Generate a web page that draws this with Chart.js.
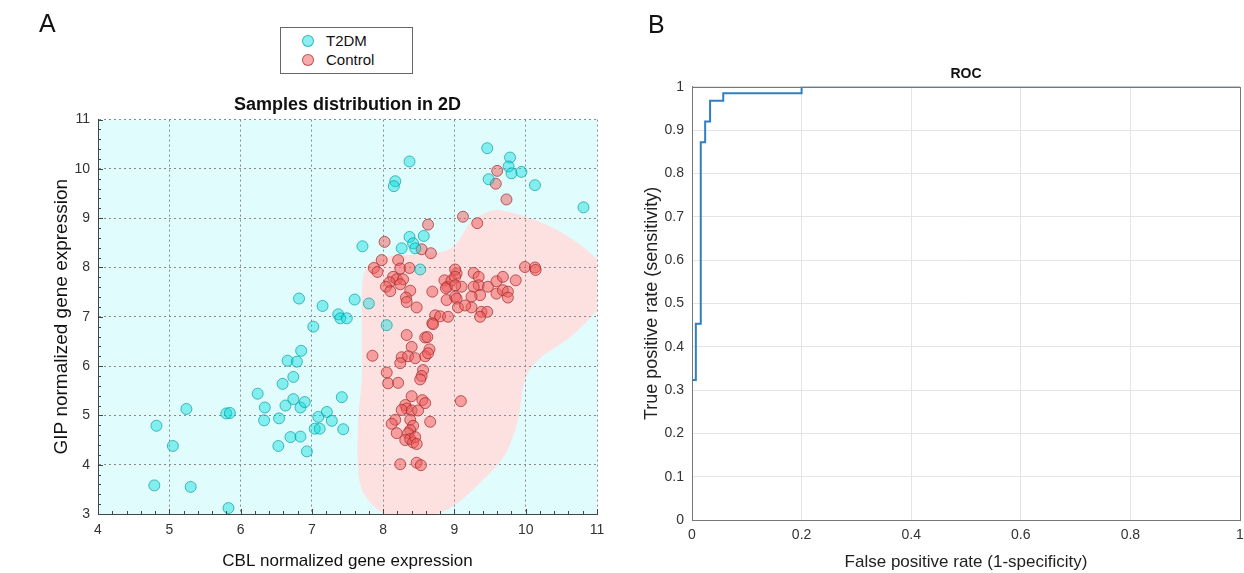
<!DOCTYPE html>
<html>
<head>
<meta charset="utf-8">
<script src="https://cdn.jsdelivr.net/npm/chart.js@4.4.0/dist/chart.umd.min.js"></script>
<style>
  body { margin: 0; background: #fff; width: 1244px; height: 573px; overflow: hidden; position: relative; font-family: "Liberation Sans", Arial, sans-serif; }
  .wrap { position: absolute; top: 0; width: 622px; height: 573px; }
  #wrapA { left: 0; }
  #wrapB { left: 622px; }
  .tag { position: absolute; font-size: 25px; color: #111; }
  #legend { position: absolute; left: 280px; top: 27px; width: 131px; height: 45px; border: 1px solid #666; background: #fff; font-size: 15px; color: #111; }
  #legend div { position: absolute; left: 21px; height: 18px; line-height: 18px; }
  #legend span { display: inline-block; width: 10px; height: 10px; border-radius: 50%; margin-right: 12px; vertical-align: -1px; }
</style>
</head>
<body>
<div class="wrap" id="wrapA"><canvas id="scatterChart" width="622" height="573"></canvas></div>
<div class="wrap" id="wrapB"><canvas id="rocChart" width="622" height="573"></canvas></div>
<div class="tag" style="left:39px;top:9px">A</div>
<div class="tag" style="left:648px;top:10px">B</div>
<div id="legend">
  <div style="top:4px"><span style="background:rgba(0,220,220,0.45);border:1px solid rgba(0,160,170,0.7)"></span>T2DM</div>
  <div style="top:23px"><span style="background:rgba(240,90,90,0.5);border:1px solid rgba(170,40,40,0.7)"></span>Control</div>
</div>
<script>
// T2DM samples (CBL, GIP)
const t2dmX = [4.82, 5.05, 5.24, 4.79, 5.30, 5.80, 5.85, 5.83, 6.24, 6.34, 6.33, 6.54, 6.53, 6.59, 6.63, 6.66, 6.74, 6.74, 6.70, 6.79,
  6.85, 6.84, 6.90, 6.84, 6.93, 7.02, 7.09, 7.04, 7.11, 7.21, 7.28, 7.42, 7.44, 6.82, 7.15, 7.37, 7.40, 7.49, 7.60, 7.80,
  8.05, 7.71, 8.37, 8.57, 8.42, 8.45, 8.26, 8.52, 8.37, 8.17, 8.15, 9.46, 9.78, 9.76, 9.80, 9.94, 9.48, 10.13, 10.81]
const t2dmY = [4.79, 4.38, 5.13, 3.58, 3.55, 5.04, 5.05, 3.12, 5.44, 5.16, 4.90, 4.94, 4.38, 5.64, 5.20, 6.11, 5.78, 5.33, 4.56, 6.09,
  6.31, 5.16, 5.27, 4.57, 4.27, 6.80, 4.97, 4.73, 4.73, 5.07, 4.89, 5.37, 4.72, 7.37, 7.22, 7.05, 6.97, 6.97, 7.35, 7.27,
  6.83, 8.43, 8.62, 8.64, 8.49, 8.39, 8.39, 7.96, 10.15, 9.75, 9.65, 10.42, 10.23, 10.05, 9.91, 9.94, 9.79, 9.67, 9.22]

// Control samples (CBL, GIP)
const controlX = [9.60, 9.58, 9.73, 9.12, 9.32, 8.63, 8.02, 8.54, 8.67, 7.98, 7.87, 7.92, 8.21, 8.24, 8.37, 8.14, 8.19, 8.28, 8.09, 8.04,
  8.10, 8.24, 8.38, 8.32, 8.33, 8.47, 8.69, 8.73, 8.80, 8.91, 8.69, 8.86, 8.90, 8.96, 8.89, 9.01, 9.03, 9.01, 9.01, 9.27,
  9.34, 9.34, 9.27, 9.10, 8.88, 9.01, 9.47, 9.59, 9.68, 9.86, 9.59, 9.68, 9.75, 9.75, 9.36, 9.24, 9.03, 9.05, 9.24, 9.15,
  9.38, 9.46, 9.36, 9.99, 10.13, 10.14, 8.70, 8.33, 8.59, 8.62, 8.40, 8.65, 7.85, 8.26, 8.35, 8.45, 8.59, 8.63, 8.24, 8.56,
  8.05, 8.54, 8.52, 8.07, 8.21, 8.40, 8.31, 8.33, 8.26, 8.40, 8.49, 8.55, 8.59, 8.17, 8.12, 8.38, 8.42, 8.66, 8.38, 8.19,
  8.35, 8.31, 8.38, 8.42, 8.45, 8.47, 9.09, 8.24, 8.47, 8.53]
const controlY = [9.96, 9.70, 9.38, 9.03, 8.90, 8.87, 8.52, 8.37, 8.29, 8.15, 7.99, 7.91, 8.15, 7.98, 7.99, 7.81, 7.76, 7.76, 7.70, 7.61,
  7.52, 7.66, 7.53, 7.39, 7.30, 7.19, 7.51, 7.03, 7.01, 7.00, 6.87, 7.74, 7.61, 7.74, 7.34, 7.41, 7.88, 7.96, 7.81, 7.89,
  7.81, 7.64, 7.61, 7.61, 7.58, 7.64, 7.61, 7.72, 7.81, 7.74, 7.47, 7.54, 7.51, 7.39, 7.44, 7.41, 7.37, 7.19, 7.19, 7.23,
  7.10, 7.10, 7.00, 8.01, 8.00, 7.95, 6.85, 6.63, 6.58, 6.59, 6.39, 6.34, 6.21, 6.18, 6.20, 6.16, 6.20, 6.26, 6.06, 5.92,
  5.87, 5.80, 5.73, 5.65, 5.66, 5.39, 5.21, 5.14, 5.11, 5.10, 5.10, 5.31, 5.25, 4.91, 4.83, 4.91, 4.79, 4.87, 4.70, 4.64,
  4.64, 4.50, 4.52, 4.45, 4.56, 4.42, 5.29, 4.01, 4.04, 3.99]

// outline of the Control decision region
const regionX = [7.75, 8.00, 8.89, 9.22, 9.46, 9.64, 10.02, 10.44, 10.86, 11.18, 11.11, 10.66, 10.20, 9.99, 9.89, 9.71, 9.40, 8.94,
  8.52, 8.03, 7.74, 7.65, 7.65, 7.70, 7.70, 7.70]
const regionY = [7.95, 8.21, 8.35, 8.90, 9.12, 9.16, 9.02, 8.76, 8.35, 7.84, 7.34, 6.63, 6.16, 5.72, 4.91, 4.20, 3.69, 3.12,
  2.95, 3.00, 3.39, 3.90, 4.91, 5.72, 6.73, 7.34]

// ROC curve
const rocFpr = [0, 0, 0.007, 0.016, 0.024, 0.033, 0.057, 0.2, 1]
const rocTpr = [0, 0.323, 0.453, 0.872, 0.92, 0.968, 0.985, 1, 1]

const xTicksA = [4, 5, 6, 7, 8, 9, 10, 11]
const yTicksA = [3, 4, 5, 6, 7, 8, 9, 10, 11]
const fprTicks = [0, 0.2, 0.4, 0.6, 0.8, 1]
const tprTicks = [0, 0.1, 0.2, 0.3, 0.4, 0.5, 0.6, 0.7, 0.8, 0.9, 1]

const FONT = "'Liberation Sans', Arial, sans-serif"
const toPoints = (xs, ys) => xs.map((x, i) => ({x, y: ys[i]}))
const plainNum = v => String(Math.round(v * 10) / 10)

// closed smooth curve through pixel points
function smoothClosed(ctx, pts) {
    const n = pts.length
    ctx.moveTo(pts[0].x, pts[0].y)
    for (let i = 0; i < n; i++) {
        const p0 = pts[(i - 1 + n) % n], p1 = pts[i], p2 = pts[(i + 1) % n], p3 = pts[(i + 2) % n]
        ctx.bezierCurveTo(p1.x + (p2.x - p0.x) / 6, p1.y + (p2.y - p0.y) / 6,
            p2.x - (p3.x - p1.x) / 6, p2.y - (p3.y - p1.y) / 6, p2.x, p2.y)
    }
    ctx.closePath()
}

// put the title over the plot area, not the whole canvas
const centerTitle = {
    id: "centerTitle",
    afterLayout(chart) {
        const t = chart.titleBlock
        if (t) {
            t.left = chart.chartArea.left
            t.right = chart.chartArea.right
        }
    }
}

const regionPlugin = {
    id: "region",
    beforeDraw(chart) {
        const {ctx, chartArea: a, scales} = chart
        ctx.save()
        ctx.fillStyle = "#e0fcfc"
        ctx.fillRect(a.left, a.top, a.right - a.left, a.bottom - a.top)
        ctx.beginPath()
        ctx.rect(a.left, a.top, a.right - a.left, a.bottom - a.top)
        ctx.clip()
        const pts = regionX.map((x, i) => ({x: scales.x.getPixelForValue(x), y: scales.y.getPixelForValue(regionY[i])}))
        ctx.beginPath()
        smoothClosed(ctx, pts)
        ctx.fillStyle = "#fde0e0"
        ctx.fill()
        ctx.restore()
    },
    afterDatasetsDraw(chart) {
        // small inward ticks like the original figure
        const {ctx, chartArea: a, scales} = chart
        ctx.save()
        ctx.strokeStyle = "#444"
        ctx.lineWidth = 1
        ctx.beginPath()
        for (let v = 4; v <= 11.001; v += 0.2) {
            const px = Math.round(scales.x.getPixelForValue(v)) + 0.5
            const len = Math.abs(v - Math.round(v)) < 0.01 ? 5 : 3
            ctx.moveTo(px, a.bottom); ctx.lineTo(px, a.bottom - len)
        }
        for (let v = 3; v <= 11.001; v += 0.2) {
            const py = Math.round(scales.y.getPixelForValue(v)) + 0.5
            const len = Math.abs(v - Math.round(v)) < 0.01 ? 5 : 3
            ctx.moveTo(a.left, py); ctx.lineTo(a.left + len, py)
        }
        ctx.stroke()
        ctx.restore()
    }
}

const boxPlugin = {
    id: "box",
    afterDatasetsDraw(chart) {
        const {ctx, chartArea: a} = chart
        ctx.save()
        ctx.strokeStyle = "#777"
        ctx.lineWidth = 1
        ctx.strokeRect(Math.round(a.left) + 0.5, Math.round(a.top) + 0.5, Math.round(a.right - a.left), Math.round(a.bottom - a.top))
        ctx.restore()
    }
}

// Panel A
new Chart(document.getElementById("scatterChart").getContext("2d"), {
    type: "scatter",
    data: {
        datasets: [{
            label: "T2DM",
            data: toPoints(t2dmX, t2dmY),
            backgroundColor: "rgba(0,220,220,0.42)",
            borderColor: "rgba(0,150,160,0.65)",
            borderWidth: 1,
            pointRadius: 5.5
        }, {
            label: "Control",
            data: toPoints(controlX, controlY),
            backgroundColor: "rgba(240,90,90,0.5)",
            borderColor: "rgba(160,40,40,0.7)",
            borderWidth: 1,
            pointRadius: 5.5
        }]
    },
    options: {
        responsive: false,
        animation: false,
        layout: {padding: {left: 0, right: 25, top: 0, bottom: 0}},
        plugins: {
            legend: {display: false},
            tooltip: {enabled: false},
            title: {
                display: true,
                text: "Samples distribution in 2D",
                font: {family: FONT, size: 18, weight: "bold"},
                color: "#111",
                padding: {top: 94, bottom: 4}
            }
        },
        scales: {
            x: {
                min: 4, max: 11,
                afterFit: s => { s.height = 59 },
                afterBuildTicks: s => { s.ticks = xTicksA.map(v => ({value: v})) },
                ticks: {font: {family: FONT, size: 14}, color: "#333", padding: 8},
                grid: {color: "#8a8a8a", tickLength: 0, drawTicks: false},
                border: {color: "#444", dash: [2, 3], width: 1},
                title: {display: true, text: "CBL normalized gene expression", font: {family: FONT, size: 17}, color: "#111", padding: {bottom: 1}}
            },
            y: {
                min: 3, max: 11,
                afterFit: s => { s.width = 98 },
                afterBuildTicks: s => { s.ticks = yTicksA.map(v => ({value: v})) },
                ticks: {font: {family: FONT, size: 14}, color: "#333", padding: 8},
                grid: {color: "#8a8a8a", tickLength: 0, drawTicks: false},
                border: {color: "#444", dash: [2, 3], width: 1},
                title: {display: true, text: "GIP normalized gene expression", font: {family: FONT, size: 19}, color: "#111", padding: {top: 50}}
            }
        }
    },
    plugins: [regionPlugin, centerTitle]
})

// Panel B
new Chart(document.getElementById("rocChart").getContext("2d"), {
    type: "scatter",
    data: {
        datasets: [{
            label: "ROC",
            data: toPoints(rocFpr, rocTpr),
            showLine: true,
            stepped: "before",
            borderColor: "#2f7fc1",
            borderWidth: 2,
            pointRadius: 0,
            fill: false
        }]
    },
    options: {
        responsive: false,
        animation: false,
        layout: {padding: {left: 0, right: 4, top: 0, bottom: 0}},
        plugins: {
            legend: {display: false},
            tooltip: {enabled: false},
            title: {
                display: true,
                text: "ROC",
                font: {family: FONT, size: 14, weight: "bold"},
                color: "#111",
                padding: {top: 66, bottom: 4}
            }
        },
        scales: {
            x: {
                min: 0, max: 1,
                afterFit: s => { s.height = 53; s.paddingRight = 4 },
                afterBuildTicks: s => { s.ticks = fprTicks.map(v => ({value: v})) },
                ticks: {font: {family: FONT, size: 14}, color: "#333", padding: 7, callback: plainNum},
                grid: {color: "#e4e4e4", drawTicks: false},
                border: {color: "#777"},
                title: {display: true, text: "False positive rate (1-specificity)", font: {family: FONT, size: 17}, color: "#222", padding: {bottom: 0}}
            },
            y: {
                min: 0, max: 1,
                afterFit: s => { s.width = 70 },
                afterBuildTicks: s => { s.ticks = tprTicks.map(v => ({value: v})) },
                ticks: {font: {family: FONT, size: 14}, color: "#333", padding: 8, callback: plainNum},
                grid: {color: "#e4e4e4", drawTicks: false},
                border: {color: "#777"},
                title: {display: true, text: "True positive rate (sensitivity)", font: {family: FONT, size: 18}, color: "#222", padding: {top: 19}}
            }
        }
    },
    plugins: [boxPlugin, centerTitle]
})
</script>
</body>
</html>
